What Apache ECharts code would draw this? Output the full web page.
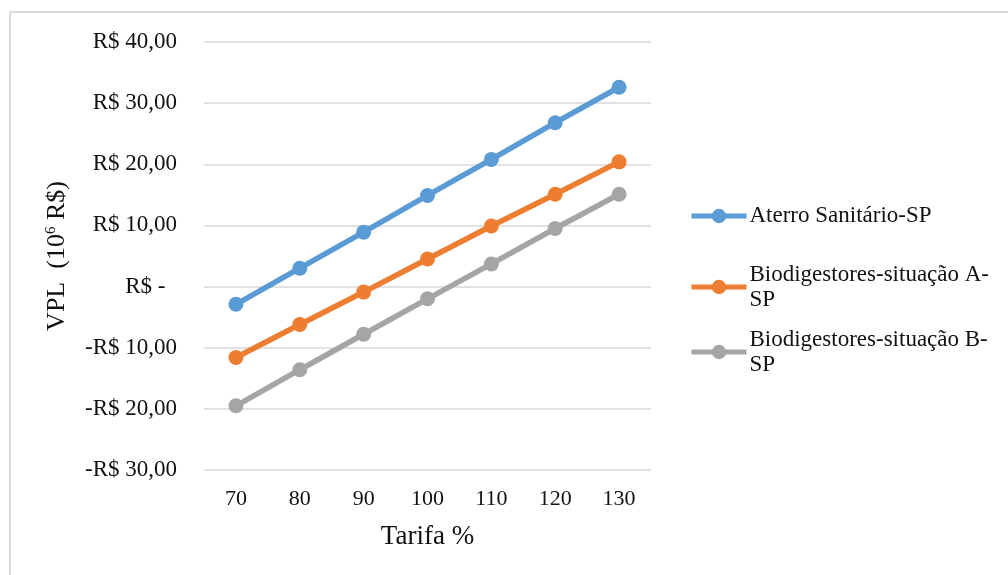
<!DOCTYPE html>
<html><head><meta charset="utf-8">
<script src="https://cdn.jsdelivr.net/npm/echarts@6/dist/echarts.min.js"></script>
<style>html,body{margin:0;padding:0;background:#fff}#c{width:1008px;height:575px}</style>
</head><body><div id="c"></div>
<script>
const categories = ['70','80','90','100','110','120','130'];
const aterro = [-2.9, 3.0, 8.9, 14.9, 20.8, 26.8, 32.6];
const bioA = [-11.6, -6.2, -0.9, 4.5, 9.9, 15.1, 20.4];
const bioB = [-19.5, -13.6, -7.8, -2.0, 3.7, 9.5, 15.1];
const seriesNames = ['Aterro Sanitário-SP', 'Biodigestores-situação A-SP', 'Biodigestores-situação B-SP'];
const legendLabels = ['Aterro Sanitário-SP', 'Biodigestores-situação A-\nSP', 'Biodigestores-situação B-\nSP'];
const colors = ['#5B9BD5', '#ED7D31', '#A5A5A5'];
const yMin = -30, yMax = 40, yStep = 10;

const font = '"Liberation Serif", "Times New Roman", serif';
const chart = echarts.init(document.getElementById('c'), null, {renderer: 'canvas'});

function fmt(v) {
  if (v === 0) return 'R$ -  ';
  const s = Math.abs(v).toFixed(2).replace('.', ',');
  return (v < 0 ? '-' : '') + 'R$ ' + s;
}

function mkLegend(i, top) {
  const multi = legendLabels[i].indexOf('\n') >= 0;
  return {
    data: [seriesNames[i]], left: 689, top: top, padding: 0,
    itemWidth: 55, itemHeight: 18, selectedMode: false,
    lineStyle: {width: 5},
    formatter: () => legendLabels[i],
    textStyle: {fontFamily: font, fontSize: 23, color: '#111', lineHeight: 25,
      padding: multi ? [25, 0, 0, -2] : [0, 0, 0, -2]}
  };
}

const data = [aterro, bioA, bioB];
chart.setOption({
  animation: false,
  backgroundColor: '#fff',
  grid: {left: 204, top: 42, width: 447, height: 428, containLabel: false},
  legend: [mkLegend(0, 203.5), mkLegend(1, 249.5), mkLegend(2, 314.5)],
  xAxis: {
    type: 'category', data: categories, boundaryGap: true,
    axisLine: {show: false}, axisTick: {show: false},
    axisLabel: {fontFamily: font, fontSize: 22, color: '#111', margin: 18},
    name: 'Tarifa %', nameLocation: 'middle', nameGap: 53,
    nameTextStyle: {fontFamily: font, fontSize: 27, color: '#111'}
  },
  yAxis: {
    type: 'value', min: yMin, max: yMax, interval: yStep,
    axisLine: {show: false}, axisTick: {show: false},
    splitLine: {lineStyle: {color: '#D9D9D9', width: 1.5}},
    axisLabel: {fontFamily: font, fontSize: 23, color: '#111', margin: 27, formatter: fmt},
    name: '{a|VPL  (10}{s|6}{a| R$)}', nameLocation: 'middle', nameGap: 134, nameRotate: 90,
    nameTextStyle: {fontFamily: font, fontSize: 26, color: '#111',
      rich: {a: {fontFamily: font, fontSize: 26, color: '#111'},
             s: {fontFamily: font, fontSize: 15, color: '#111', verticalAlign: 'top', padding: [0,0,11,0]}}}
  },
  series: data.map((d, i) => ({
    name: seriesNames[i], type: 'line', data: d,
    symbol: 'circle', symbolSize: 15, showSymbol: true,
    lineStyle: {color: colors[i], width: 5.5},
    itemStyle: {color: colors[i]},
    z: 3 - i
  })),
  graphic: [
    {type: 'line', shape: {x1: 10, y1: 12, x2: 1008, y2: 12}, style: {stroke: '#D9D9D9', lineWidth: 2}},
    {type: 'line', shape: {x1: 10, y1: 12, x2: 10, y2: 575}, style: {stroke: '#D9D9D9', lineWidth: 2}}
  ]
});
</script></body></html>
